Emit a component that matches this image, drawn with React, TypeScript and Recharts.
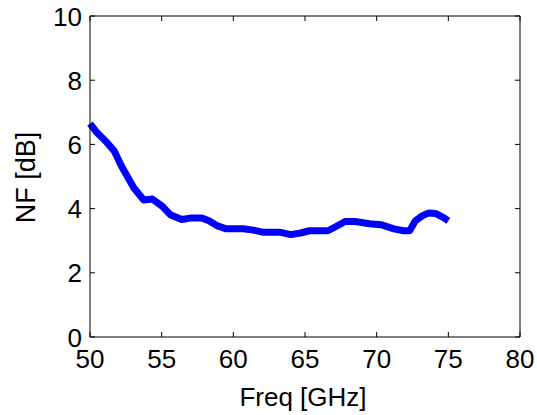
import { LineChart, Line, XAxis, YAxis, Label } from 'recharts';

const freq = [50.0, 50.5, 51.1, 51.7, 52.2, 52.6, 53.05, 53.75, 54.35, 55.05, 55.6, 56.4, 57.1, 57.8, 58.3, 58.9, 59.5, 60.7, 61.4, 62.1, 63.3, 64.0, 64.7, 65.3, 66.6, 67.2, 67.8, 68.5, 69.5, 70.3, 71.2, 71.9, 72.3, 72.7, 73.2, 73.6, 74.1, 74.7, 75.0];
const nf = [6.65, 6.36, 6.1, 5.79, 5.32, 5.01, 4.65, 4.27, 4.3, 4.07, 3.81, 3.66, 3.71, 3.71, 3.62, 3.46, 3.37, 3.37, 3.33, 3.26, 3.26, 3.19, 3.24, 3.31, 3.31, 3.45, 3.6, 3.6, 3.53, 3.5, 3.37, 3.31, 3.31, 3.62, 3.78, 3.86, 3.85, 3.71, 3.62];
const xTicks = [50, 55, 60, 65, 70, 75, 80];
const yTicks = [0, 2, 4, 6, 8, 10];

const data = freq.map((f, i) => ({ freq: f, nf: nf[i] }));

const font = 'Arial, "Liberation Sans", sans-serif';
const TICK = 5;

// matlab style: tick marks point into the plot box
const BottomTick = ({ x, y, payload }: any) => (
    <g>
        <line x1={x} y1={y} x2={x} y2={y - TICK} stroke="#000" />
        <text x={x} y={y + 31} textAnchor="middle" fill="#000" fontSize={26} fontFamily={font}>{payload.value}</text>
    </g>
);
const LeftTick = ({ x, y, payload }: any) => (
    <g>
        <line x1={x} y1={y} x2={x + TICK} y2={y} stroke="#000" />
        <text x={x - 8} y={y + 9.5} textAnchor="end" fill="#000" fontSize={26} fontFamily={font}>{payload.value}</text>
    </g>
);
const TopTick = ({ x, y }: any) => <line x1={x} y1={y} x2={x} y2={y + TICK} stroke="#000" />;
const RightTick = ({ x, y }: any) => <line x1={x} y1={y} x2={x - TICK} y2={y} stroke="#000" />;

export default function App() {
    return (
        <div style={{ position: 'absolute', left: 0, top: 0, width: 537, height: 415 }}>
            <LineChart width={537} height={415} data={data} margin={{ top: 15, right: 16, bottom: 0, left: 0 }}>
                <XAxis
                    dataKey="freq"
                    type="number"
                    domain={[50, 80]}
                    ticks={xTicks}
                    height={78}
                    stroke="#000"
                    tickLine={false}
                    tickSize={0}
                    tickMargin={0}
                    tick={BottomTick}
                    interval={0}
                >
                    <Label
                        content={({ viewBox }: any) => (
                            <text x={viewBox.x + viewBox.width / 2 - 2} y={viewBox.y + 69} textAnchor="middle" fill="#000" fontSize={26} fontFamily={font}>
                                Freq [GHz]
                            </text>
                        )}
                    />
                </XAxis>
                <XAxis
                    xAxisId="top"
                    orientation="top"
                    dataKey="freq"
                    type="number"
                    domain={[50, 80]}
                    ticks={xTicks}
                    height={1}
                    stroke="#000"
                    tickLine={false}
                    tickSize={0}
                    tickMargin={0}
                    tick={TopTick}
                    interval={0}
                />
                <YAxis
                    type="number"
                    domain={[0, 10]}
                    ticks={yTicks}
                    width={90}
                    stroke="#000"
                    tickLine={false}
                    tickSize={0}
                    tickMargin={0}
                    tick={LeftTick}
                    interval={0}
                >
                    <Label
                        content={({ viewBox }: any) => {
                            const cx = viewBox.x + 26;
                            const cy = viewBox.y + viewBox.height / 2 + 1;
                            return (
                                <text x={cx} y={cy} transform={`rotate(-90 ${cx} ${cy})`} textAnchor="middle" dominantBaseline="central" fill="#000" fontSize={27} fontFamily={font}>
                                    NF [dB]
                                </text>
                            );
                        }}
                    />
                </YAxis>
                <YAxis
                    yAxisId="right"
                    orientation="right"
                    type="number"
                    domain={[0, 10]}
                    ticks={yTicks}
                    width={1}
                    stroke="#000"
                    tickLine={false}
                    tickSize={0}
                    tickMargin={0}
                    tick={RightTick}
                    interval={0}
                />
                <Line
                    dataKey="nf"
                    stroke="#0000ff"
                    strokeWidth={7}
                    dot={false}
                    type="linear"
                    strokeLinejoin="round"
                    isAnimationActive={false}
                />
                {/* invisible copy so the mirrored top/right axes get drawn */}
                <Line
                    xAxisId="top"
                    yAxisId="right"
                    dataKey="nf"
                    stroke="none"
                    dot={false}
                    legendType="none"
                    isAnimationActive={false}
                />
            </LineChart>
        </div>
    );
}
